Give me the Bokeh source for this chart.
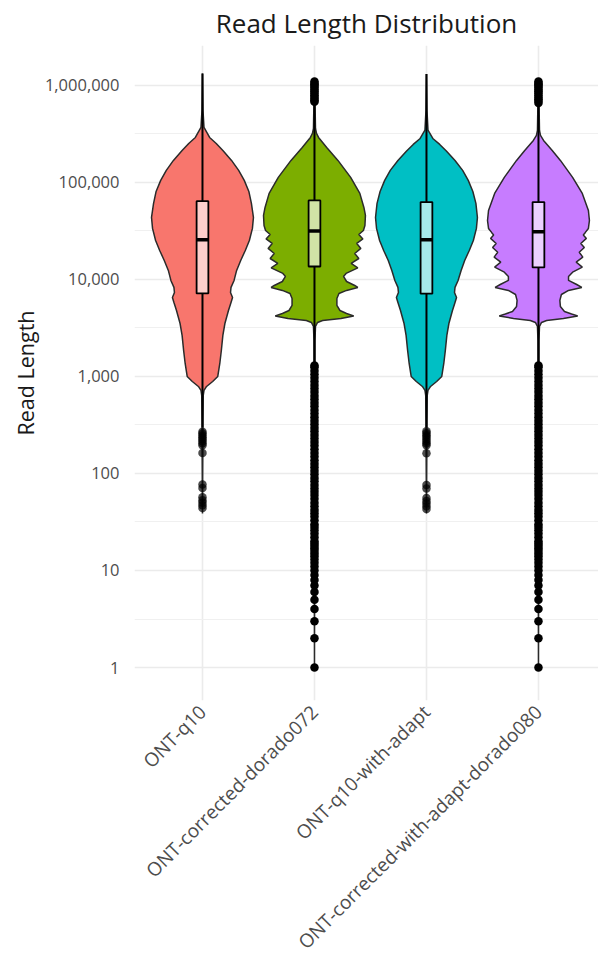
import math
from bokeh.plotting import figure
from bokeh.models import Range1d, FixedTicker, NumeralTickFormatter, ColumnDataSource
from bokeh.embed import file_html
from bokeh.resources import INLINE

# ---------------- data ----------------
title_text = "Read Length Distribution"
y_label = "Read Length"
categories = ["ONT-q10", "ONT-corrected-dorado072", "ONT-q10-with-adapt",
              "ONT-corrected-with-adapt-dorado080"]
fill_colors = ["#F8766D", "#7CAE00", "#00BFC4", "#C77CFF"]

# violin profiles: log10(read length) and relative density (1 = widest)
q10_log = [6.124, 5.742, 5.567, 5.464, 5.402, 5.330, 5.227, 5.124, 5.021, 4.907,
           4.784, 4.639, 4.526, 4.402, 4.299, 4.196, 4.093, 3.990, 3.918, 3.866,
           3.814, 3.763, 3.680, 3.546, 3.423, 3.268, 3.134, 3.000, 2.948, 2.897,
           2.856, 2.804, 2.546, 1.588]
q10_dens = [0.0, 0.01, 0.03, 0.14, 0.27, 0.40, 0.57, 0.71, 0.82, 0.91,
            0.96, 1.00, 0.98, 0.92, 0.84, 0.75, 0.67, 0.62, 0.56, 0.55,
            0.59, 0.56, 0.51, 0.44, 0.40, 0.37, 0.34, 0.30, 0.20, 0.08,
            0.03, 0.015, 0.01, 0.0]

cor072_log = [6.052, 5.845, 5.557, 5.505, 5.464, 5.361, 5.227, 5.052, 4.887, 4.742,
              4.660, 4.557, 4.505, 4.464, 4.418, 4.371, 4.320, 4.268, 4.216, 4.165,
              4.119, 4.062, 4.031, 3.979, 3.938, 3.918, 3.887, 3.856, 3.804, 3.732,
              3.680, 3.649, 3.624, 3.598, 3.577, 3.557, 3.515, 3.371, 0.0]
cor072_dens = [0.0, 0.01, 0.02, 0.04, 0.08, 0.24, 0.46, 0.71, 0.89, 0.97,
               1.00, 0.99, 0.96, 0.87, 0.95, 0.83, 0.91, 0.79, 0.87, 0.72,
               0.85, 0.62, 0.57, 0.63, 0.79, 0.85, 0.63, 0.48, 0.44, 0.44,
               0.50, 0.63, 0.77, 0.52, 0.16, 0.06, 0.02, 0.01, 0.0]

q10a_log = [6.118, 5.742, 5.540, 5.450, 5.392, 5.325, 5.227, 5.124, 5.021, 4.907,
            4.784, 4.639, 4.526, 4.402, 4.299, 4.196, 4.093, 3.990, 3.918, 3.866,
            3.814, 3.763, 3.680, 3.546, 3.423, 3.268, 3.134, 3.000, 2.948, 2.897,
            2.856, 2.804, 2.546, 1.588]
q10a_dens = [0.0, 0.01, 0.03, 0.13, 0.26, 0.39, 0.56, 0.71, 0.82, 0.91,
             0.97, 1.00, 0.98, 0.92, 0.84, 0.75, 0.68, 0.62, 0.56, 0.55,
             0.59, 0.56, 0.51, 0.44, 0.40, 0.37, 0.34, 0.30, 0.20, 0.08,
             0.03, 0.015, 0.01, 0.0]

cor080_log = [6.052, 5.845, 5.536, 5.485, 5.433, 5.330, 5.227, 5.052, 4.887, 4.711,
              4.608, 4.526, 4.485, 4.459, 4.423, 4.371, 4.330, 4.281, 4.230, 4.178,
              4.127, 4.075, 4.031, 3.990, 3.948, 3.918, 3.887, 3.845, 3.784, 3.722,
              3.670, 3.644, 3.624, 3.598, 3.577, 3.557, 3.515, 3.371, 0.0]
cor080_dens = [0.0, 0.01, 0.02, 0.04, 0.10, 0.27, 0.43, 0.67, 0.86, 0.98,
               1.00, 0.98, 0.92, 0.88, 0.94, 0.83, 0.90, 0.80, 0.87, 0.74,
               0.86, 0.67, 0.59, 0.59, 0.75, 0.85, 0.59, 0.45, 0.42, 0.43,
               0.51, 0.65, 0.77, 0.49, 0.16, 0.06, 0.02, 0.01, 0.0]

violin_logs = [q10_log, cor072_log, q10a_log, cor080_log]
violin_dens = [q10_dens, cor072_dens, q10a_dens, cor080_dens]

# box plot statistics (read length)
q1_vals = [7180, 13600, 7130, 13300]
median_vals = [25650, 31600, 25650, 31100]
q3_vals = [64100, 65200, 62700, 62700]
whisker_low = [300, 1350, 300, 1340]
whisker_high = [1330000, 660000, 1310000, 650000]

# outliers
q10_out = [270, 258, 247, 236, 226, 215, 205, 196, 163, 77, 71, 57, 53, 50, 47, 44]
q10a_out = [272, 260, 248, 238, 225, 214, 204, 195, 162, 76, 70, 56, 52, 49, 46, 43]
cor_low_out = [1, 2, 3, 4, 5, 6, 7, 8, 9, 10, 11, 12, 13, 14, 15, 16, 17, 18, 19, 20,
               22, 24, 26, 28, 30, 33, 36, 39, 42, 46, 50, 55, 60, 65, 70, 76, 83, 90,
               98, 107, 116, 126, 137, 150, 163, 178, 194, 211, 230, 250, 272, 296,
               322, 350, 381, 415, 452, 492, 535, 583, 634, 690, 751, 817, 889, 968,
               1054, 1147, 1248, 1300]
cor072_high_out = [680000, 700000, 730000, 760000, 790000, 830000, 870000, 910000,
                   950000, 990000, 1020000, 1060000, 1100000]
cor080_high_out = [660000, 690000, 720000, 750000, 790000, 830000, 870000, 910000,
                   950000, 990000, 1020000, 1060000, 1100000]
outliers = [q10_out, cor_low_out + cor072_high_out, q10a_out, cor_low_out + cor080_high_out]

y_ticks = [1, 10, 100, 1000, 10000, 100000, 1000000]
y_minor = [3.1623, 31.623, 316.23, 3162.3, 31623, 316228, 3162278]

# ---------------- styles ----------------
FONT = "Open Sans"
VIOLIN_HALF = 0.455
BOX_W = 0.105
outlier_alpha = [0.7, 1.0, 0.7, 1.0]
xpos = [1, 2, 3, 4]

p = figure(width=598, height=967,
           x_range=Range1d(0.393, 4.536), y_range=Range1d(0.457, 2.58e6),
           y_axis_type="log", output_backend="svg", toolbar_location=None,
           min_border_left=134, min_border_right=0, min_border_top=45,
           min_border_bottom=267)
p.outline_line_color = None
p.background_fill_color = "white"

p.title.text = title_text
p.title.align = "center"
p.title.vertical_align = "top"
p.title.text_font = FONT
p.title.text_font_size = "26px"
p.title.text_font_style = "normal"
p.title.text_color = "#1a1a1a"
p.title.standoff = 5
p.title.offset = 2.5

for i, c in enumerate(xpos):
    logs = violin_logs[i]
    dens = violin_dens[i]
    ys = [10 ** l for l in logs]
    left = [c - VIOLIN_HALF * d for d in dens]
    right = [c + VIOLIN_HALF * d for d in dens]
    p.patch(left + right[::-1], ys + ys[::-1], fill_color=fill_colors[i],
            line_color="#2b2b2b", line_width=1.5)

src = ColumnDataSource(dict(
    x=xpos, q1=q1_vals, med=median_vals, q3=q3_vals, lo=whisker_low, hi=whisker_high,
    l=[c - BOX_W / 2 for c in xpos], r=[c + BOX_W / 2 for c in xpos]))
p.segment(x0="x", y0="q3", x1="x", y1="hi", source=src, line_color="black", line_width=2)
p.segment(x0="x", y0="q1", x1="x", y1="lo", source=src, line_color="black", line_width=2)
p.quad(left="l", right="r", bottom="q1", top="q3", source=src, fill_color="white",
       fill_alpha=0.65, line_color="black", line_width=1.8)
p.segment(x0="l", y0="med", x1="r", y1="med", source=src, line_color="black", line_width=3.5)

for i, c in enumerate(xpos):
    vals = outliers[i]
    p.scatter([c] * len(vals), vals, size=8.5, marker="circle", fill_color="black",
              line_color=None, fill_alpha=outlier_alpha[i])

# axes
p.yaxis.ticker = FixedTicker(ticks=y_ticks, minor_ticks=y_minor)
p.yaxis.formatter = NumeralTickFormatter(format="0,0")
p.xaxis.ticker = FixedTicker(ticks=xpos)
p.xaxis.major_label_overrides = {k: v for k, v in zip(xpos, categories)}
p.xaxis.major_label_orientation = math.pi / 4

for ax in (p.xaxis, p.yaxis):
    ax.axis_line_color = None
    ax.major_tick_line_color = None
    ax.minor_tick_line_color = None
    ax.major_tick_out = 0
    ax.major_tick_in = 0
    ax.minor_tick_out = 0
    ax.minor_tick_in = 0
    ax.major_label_text_font = FONT
    ax.major_label_text_color = "#4d4d4d"

p.yaxis.major_label_text_font_size = "16.5px"
p.xaxis.major_label_text_font_size = "19px"
p.yaxis.major_label_standoff = 15
p.xaxis.major_label_standoff = 8
p.yaxis.axis_label = y_label
p.yaxis.axis_label_text_font = FONT
p.yaxis.axis_label_text_font_size = "21.5px"
p.yaxis.axis_label_text_font_style = "normal"
p.yaxis.axis_label_text_color = "#1a1a1a"
p.yaxis.axis_label_standoff = 2

p.xgrid.grid_line_color = "#ebebeb"
p.xgrid.grid_line_width = 1.6
p.ygrid.grid_line_color = "#ebebeb"
p.ygrid.grid_line_width = 1.6
p.ygrid.minor_grid_line_color = "#f0f0f0"
p.ygrid.minor_grid_line_width = 1.1

open("out.html", "w").write(file_html(p, INLINE))
